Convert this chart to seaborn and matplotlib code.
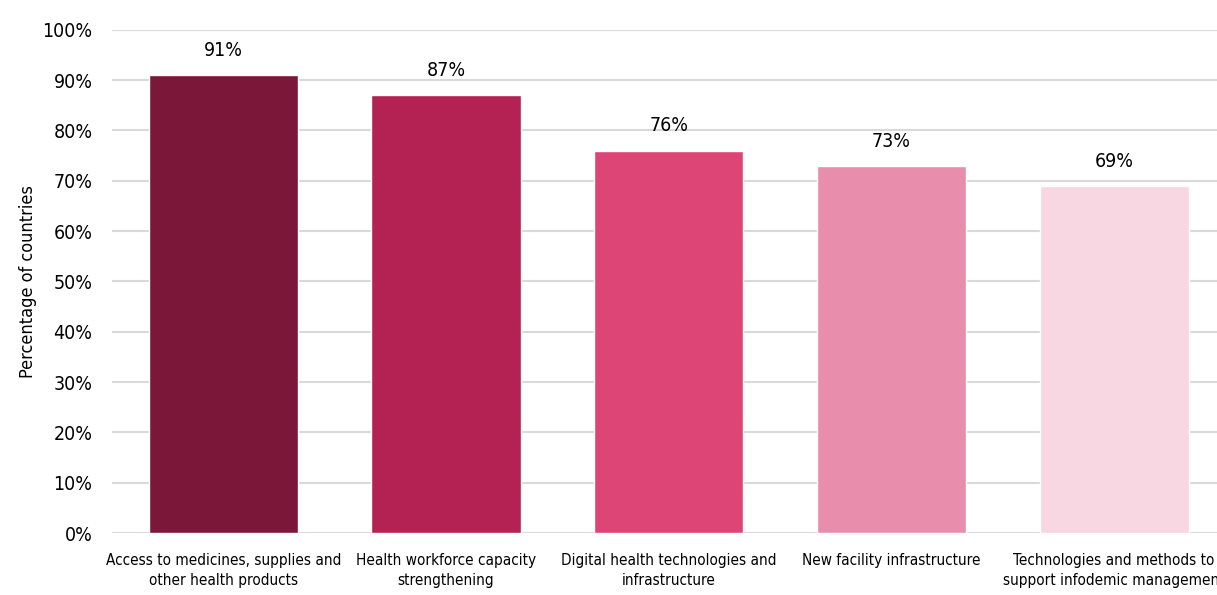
import matplotlib
matplotlib.use("Agg")
import matplotlib.pyplot as plt
import seaborn as sns
import pandas as pd

# ------------------------
# Data
# ------------------------

categories = [
    "Access to medicines, supplies and\nother health products",
    "Health workforce capacity\nstrengthening",
    "Digital health technologies and\ninfrastructure",
    "New facility infrastructure",
    "Technologies and methods to\nsupport infodemic management",
]
values = [91, 87, 76, 73, 69]
bar_colors = ["#7B1739", "#B42253", "#DD4577", "#E98DAD", "#F8D7E3"]
y_ticks = [0, 10, 20, 30, 40, 50, 60, 70, 80, 90, 100]
y_tick_labels = [f"{t}%" for t in y_ticks]

# ------------------------
# Plot
# ------------------------

sns.set_theme(style="white")
plt.rcParams["font.family"] = ["DejaVu Sans"]
plt.rcParams["font.stretch"] = "condensed"
plt.rcParams["text.color"] = "black"
plt.rcParams["xtick.color"] = "black"
plt.rcParams["ytick.color"] = "black"
plt.rcParams["axes.labelcolor"] = "black"

df = pd.DataFrame({"category": categories, "value": values})

fig = plt.figure(figsize=(12.17, 5.95), dpi=100)
ax = fig.add_axes([0.092, 0.104, 0.915, 0.846])

sns.barplot(data=df, x="category", y="value", hue="category",
            palette=bar_colors, width=0.67, legend=False, ax=ax,
            saturation=1)

for i, v in enumerate(values):
    ax.text(i, v + 3, f"{v}%", ha="center", va="bottom", fontsize=14)

ax.set_ylim(0, 100)
ax.set_xlim(-0.5, 4.5)
ax.set_yticks(y_ticks)
ax.set_yticklabels(y_tick_labels, fontsize=14)
ax.set_xticks(range(len(categories)))
ax.set_xticklabels(categories, fontsize=11, linespacing=1.45)
ax.tick_params(axis="x", length=0, pad=14)
ax.tick_params(axis="y", length=0, pad=14)
ax.yaxis.grid(True, color="#D9D9D9", linewidth=1.5)
ax.set_axisbelow(True)
for s in ax.spines.values():
    s.set_visible(False)
ax.set_xlabel("")
ax.set_ylabel("Percentage of countries", fontsize=13, labelpad=4)

fig.savefig("out.png", dpi=100)
